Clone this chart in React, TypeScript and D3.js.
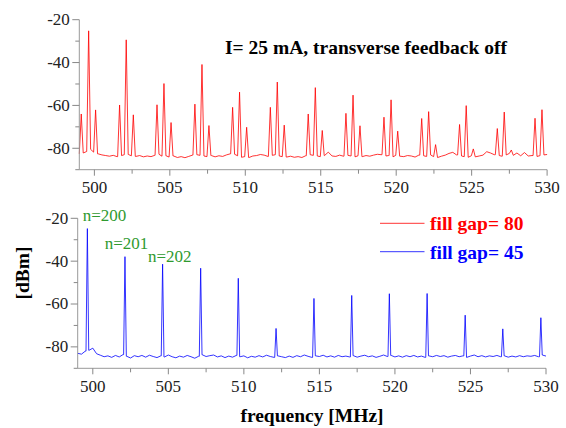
import React from 'react';
import * as d3 from 'd3';

// spectrum analyser traces, noise floor read every 0.25 MHz from 499 MHz
const FREQ_START = 499;
const FREQ_STEP = 0.25;

const noiseGap80 = [
  -82.6, -82.2, -81.5, -80.5, -81.8, -82.6, -83.1, -83.4,
  -83.7, -83.3, -83.9, -83.4, -83.0, -82.9, -83.5, -83.8,
  -83.4, -84.0, -83.6, -83.9, -83.3, -82.8, -83.7, -83.5,
  -84.1, -83.6, -84.3, -83.9, -84.4, -83.8, -83.2, -83.0,
  -83.3, -83.6, -83.9, -83.4, -84.0, -83.5, -83.8, -83.1,
  -82.6, -82.8, -83.5, -84.2, -83.9, -84.3, -83.6, -83.4,
  -82.9, -83.2, -83.8, -83.3, -83.0, -83.6, -83.9, -84.1,
  -83.7, -84.2, -83.9, -84.3, -83.5, -83.0, -83.3, -83.6,
  -83.9, -83.4, -81.8, -83.6, -83.8, -83.2, -83.7, -83.3,
  -83.6, -84.0, -83.5, -83.9, -83.4, -83.7, -83.2, -82.8,
  -83.0, -83.6, -83.4, -84.0, -83.3, -83.7, -83.9, -83.4,
  -83.6, -84.1, -83.2, -83.5, -83.8, -83.1, -83.9, -84.3,
  -83.7, -83.2, -82.4, -81.9, -83.1, -83.6, -83.9, -84.2,
  -83.5, -84.0, -83.6, -83.2, -81.6, -82.2, -83.0, -83.4,
  -83.7, -83.1, -82.4, -83.3, -82.2, -83.5, -82.0, -83.6,
  -83.4, -83.8, -83.5, -83.1, -82.9,
];

const noiseGap45 = [
  -83.0, -83.4, -82.0, -81.6, -80.6, -83.2, -83.9, -84.6,
  -84.2, -84.9, -84.0, -84.7, -83.6, -84.4, -85.2, -84.1,
  -84.6, -84.0, -84.8, -83.9, -84.5, -85.0, -84.2, -84.7,
  -83.8, -84.6, -85.1, -84.3, -84.8, -84.0, -84.6, -85.3,
  -84.4, -83.7, -84.5, -84.1, -83.8, -84.7, -84.2, -85.0,
  -84.3, -84.8, -84.0, -84.6, -84.2, -85.1, -84.4, -84.8,
  -84.1, -84.7, -83.9, -84.5, -84.9, -84.2, -84.6, -85.0,
  -84.3, -84.9, -84.1, -84.6, -83.8, -84.4, -84.9, -84.2,
  -84.5, -83.9, -84.7, -84.2, -84.8, -84.0, -84.6, -84.3,
  -84.7, -84.1, -84.8, -84.3, -83.9, -84.6, -84.2, -84.9,
  -84.4, -83.8, -84.5, -84.0, -84.7, -84.2, -84.8, -84.1,
  -84.6, -84.0, -84.7, -84.3, -84.9, -84.2, -84.6, -84.0,
  -84.5, -84.1, -84.8, -84.3, -84.0, -84.6, -84.2, -84.9,
  -84.3, -83.8, -84.6, -84.1, -84.7, -84.2, -84.5, -84.0,
  -84.6, -84.2, -84.8, -84.3, -84.7, -84.1, -84.6, -84.2,
  -84.4, -84.0, -84.6, -83.8, -84.3,
];

// [frequency MHz, level dBm]
const peaksGap80: [number, number][] = [
  [499.13, -64.0], [499.62, -25.2], [500.08, -62.1],
  [501.67, -59.8], [502.11, -29.4], [502.58, -64.4],
  [504.15, -59.7], [504.61, -49.8], [505.08, -68.0],
  [506.66, -59.4], [507.13, -40.9], [507.59, -69.4],
  [509.16, -60.9], [509.62, -53.8], [510.09, -70.2],
  [511.66, -60.9], [512.12, -49.1], [512.58, -69.2],
  [514.17, -64.0], [514.64, -51.7], [515.10, -71.7],
  [516.67, -63.7], [517.14, -55.2], [517.60, -69.5],
  [519.19, -65.5], [519.66, -57.4], [520.10, -72.0],
  [521.69, -66.1], [522.15, -62.9], [522.61, -78.3],
  [524.20, -68.9], [524.64, -60.1], [525.11, -80.3],
  [526.70, -70.8], [527.16, -63.1], [527.63, -80.8],
  [529.20, -66.0], [529.66, -62.0],
];

const peaksGap45: [number, number][] = [
  [499.64, -24.8], [502.13, -37.9], [504.62, -41.4], [507.14, -43.3],
  [509.63, -48.0], [512.13, -71.4], [514.64, -57.4], [517.14, -56.0],
  [519.63, -55.2], [522.13, -55.1], [524.65, -65.2], [527.14, -71.6],
  [529.66, -66.4],
];

const seriesNames = ['fill gap= 80', 'fill gap= 45'];
const seriesColors = ['#ff0000', '#0000ff'];
const harmonicLabels = ['n=200', 'n=201', 'n=202'];
const freqMajor = [500, 505, 510, 515, 520, 525, 530];
const freqMinor = [502.5, 507.5, 512.5, 517.5, 522.5, 527.5];
const dbmMajor = [-20, -40, -60, -80];
const dbmMinor = [-30, -50, -70, -90];
const title = 'I= 25 mA, transverse feedback off';

const SERIF = 'Liberation Serif';
const AXIS = '#999';
const TICK = '#888';
const LABEL = '#222';

function buildTrace(noise: number[], peaks: [number, number][], half: number) {
  const floorAt = (f: number) => {
    const i = Math.max(0, Math.min(noise.length - 1, Math.round((f - FREQ_START) / FREQ_STEP)));
    return noise[i];
  };
  const pts: [number, number][] = noise
    .map((v, i) => [FREQ_START + i * FREQ_STEP, v] as [number, number])
    .filter(([f]) => !peaks.some(([pf]) => Math.abs(f - pf) < half));
  peaks.forEach(([pf, h]) => {
    pts.push([pf - half, floorAt(pf - half)], [pf, h], [pf + half, floorAt(pf + half)]);
  });
  return pts.sort((a, b) => a[0] - b[0]);
}

type Scale = d3.ScaleLinear<number, number>;

const Panel = ({ x, y, trace, color }: { x: Scale; y: Scale; trace: [number, number][]; color: string }) => {
  const [x0, x1] = x.range();
  const [yb, yt] = y.range();
  const line = d3.line<[number, number]>().x(d => x(d[0])).y(d => y(d[1]));
  return (
    <g>
      <path d={line(trace) || ''} fill="none" stroke={color} strokeWidth={0.8} strokeLinejoin="round" />
      <line x1={x0} x2={x0} y1={yt} y2={yb} stroke={AXIS} />
      <line x1={x0} x2={x1} y1={yb} y2={yb} stroke={AXIS} />
      {dbmMinor.map(v => (
        <line key={v} x1={x0 - 4} x2={x0} y1={y(v)} y2={y(v)} stroke={TICK} />
      ))}
      {dbmMajor.map(v => (
        <g key={v}>
          <line x1={x0 - 7} x2={x0} y1={y(v)} y2={y(v)} stroke={TICK} />
          <text x={x0 - 9.5} y={y(v)} dy="0.32em" textAnchor="end" fontFamily={SERIF} fontSize={17} fill={LABEL}>
            {v}
          </text>
        </g>
      ))}
      {freqMinor.map(v => (
        <line key={v} x1={x(v)} x2={x(v)} y1={yb} y2={yb + 4} stroke={TICK} />
      ))}
      {freqMajor.map(v => (
        <g key={v}>
          <line x1={x(v)} x2={x(v)} y1={yb} y2={yb + 6} stroke={TICK} />
          <text x={x(v)} y={yb + 23.6} textAnchor="middle" fontFamily={SERIF} fontSize={17} fill={LABEL}>
            {v}
          </text>
        </g>
      ))}
    </g>
  );
};

const App = () => {
  // top panel: fill gap 80
  const xTop = d3.scaleLinear().domain([499, 530]).range([79.3, 547.1]);
  const yTop = d3.scaleLinear().domain([-90, -20]).range([169.7, 19.7]);
  // bottom panel: fill gap 45
  const xBot = d3.scaleLinear().domain([499, 530]).range([77.7, 546]);
  const yBot = d3.scaleLinear().domain([-90, -20]).range([368.3, 218.3]);

  const legendY = [223.3, 251.7];
  // harmonic number labels next to the first three revolution lines
  const labelOffsets = [[-4.7, -7.6], [-20.3, -7.7], [-14.6, -2.2]];

  return (
    <svg width={566} height={428} style={{ position: 'absolute', left: 0, top: 0, background: '#fff' }}>
      <Panel x={xTop} y={yTop} trace={buildTrace(noiseGap80, peaksGap80, 0.13)} color={seriesColors[0]} />
      <Panel x={xBot} y={yBot} trace={buildTrace(noiseGap45, peaksGap45, 0.09)} color={seriesColors[1]} />

      <text x={225} y={53.5} fontFamily={SERIF} fontSize={19.5} fontWeight="bold" fill="#000">
        {title}
      </text>

      {seriesNames.map((name, i) => (
        <g key={name}>
          <line x1={380} x2={424.5} y1={legendY[i]} y2={legendY[i]} stroke={seriesColors[i]} strokeWidth={0.8} />
          <text x={430} y={legendY[i] + 7} fontFamily={SERIF} fontSize={19.5} fontWeight="bold" fill={seriesColors[i]}>
            {name}
          </text>
        </g>
      ))}

      {harmonicLabels.map((lab, i) => (
        <text
          key={lab}
          x={xBot(peaksGap45[i][0]) + labelOffsets[i][0]}
          y={yBot(peaksGap45[i][1]) + labelOffsets[i][1]}
          fontFamily={SERIF}
          fontSize={17}
          fill="#2f9a2f"
        >
          {lab}
        </text>
      ))}

      <text x={312} y={422} textAnchor="middle" fontFamily={SERIF} fontSize={19.5} fontWeight="bold">
        frequency [MHz]
      </text>
      <text transform="translate(29,273) rotate(-90)" textAnchor="middle" fontFamily={SERIF} fontSize={19.5} fontWeight="bold">
        [dBm]
      </text>
    </svg>
  );
};

export default App;
